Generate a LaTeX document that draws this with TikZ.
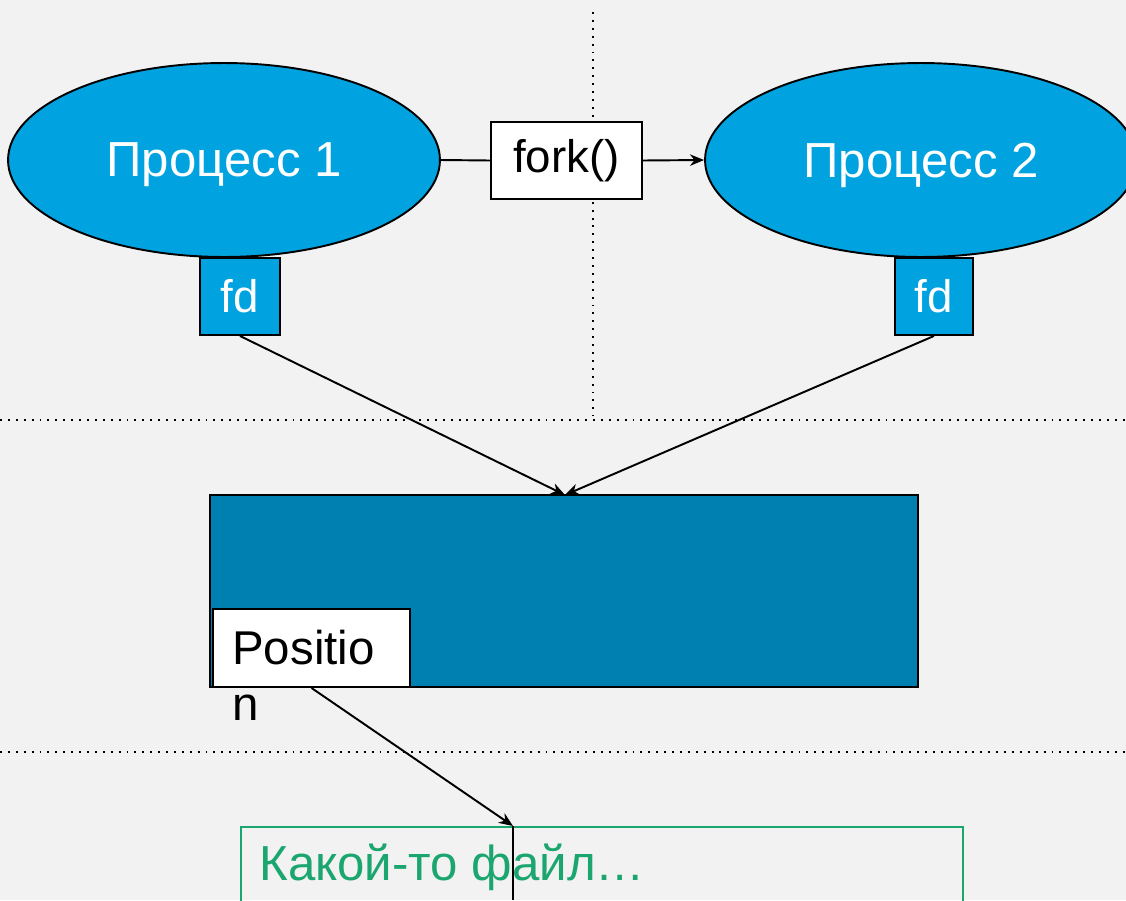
\documentclass[tikz,border=0pt]{standalone}
\usepackage{fontspec}
\setmainfont{Liberation Sans}
\usetikzlibrary{shapes.geometric,arrows.meta}

\definecolor{bg}{RGB}{242,242,242}
\definecolor{procblue}{RGB}{0,163,224}
\definecolor{tableblue}{RGB}{0,128,176}
\definecolor{filegreen}{RGB}{26,166,110}

\tikzset{
  px/.style={x=0.02cm,y=-0.02cm},
  border/.style={draw=black,line width=1.1pt},
  proc/.style={ellipse,border,fill=procblue,text=white,inner sep=0pt,
    minimum width=8.64cm,minimum height=3.88cm,font=\fontsize{28}{32}\selectfont},
  fdbox/.style={rectangle,border,fill=procblue,text=white,inner sep=0pt,
    minimum height=1.54cm,font=\fontsize{26}{30}\selectfont},
  whitebox/.style={rectangle,border,fill=white,inner sep=0pt},
  conn/.style={draw=black,line width=1.1pt},
  arr/.style={conn,-{Stealth[length=8pt,width=6.5pt,inset=2.5pt]}},
  sep/.style={draw=black,line width=1.1pt,dash pattern=on 1.1pt off 3.4pt},
}

\begin{document}
\begin{tikzpicture}[px]
  % canvas
  \fill[bg] (0,0) rectangle (1126,900);
  \useasboundingbox (0,0) rectangle (1126,900);
  \clip (0,0) rectangle (1126,900);

  % region separators
  \draw[sep] (593,12) -- (593,416);
  \draw[sep] (0,420) -- (1126,420);
  \draw[sep] (0,752) -- (1126,752);

  % processes
  \node[proc,text depth=-0.12cm] (p1) at (224,160) {Процесс 1};
  \node[proc,text depth=-0.12cm] (p2) at (921,160) {Процесс 2};
  \node[whitebox,minimum width=3.02cm,minimum height=1.54cm,
        font=\fontsize{26}{30}\selectfont] (fork) at (566.5,160.5) {fork()};
  \draw[conn] (p1.east) -- (fork.west);
  \draw[arr] (fork.east) -- (p2.west);

  % descriptors
  \node[fdbox,minimum width=1.6cm] (fd1) at (240,296.5) {fd};
  \node[fdbox,minimum width=1.56cm] (fd2) at (934,296.5) {fd};

  % open file description
  \node[rectangle,border,fill=tableblue,minimum width=14.16cm,minimum height=3.84cm,
        inner sep=0pt] (ofd) at (564,591) {};
  \coordinate (ofdtop) at (565,495);
  \draw[arr] (fd1.south) -- (ofdtop);
  \draw[arr] (fd2.south) -- (ofdtop);

  \node[whitebox,minimum width=3.94cm,minimum height=1.56cm] (pos) at (311.5,648) {};
  \node[anchor=north west,align=left,inner sep=0pt,
        font=\fontsize{27}{32}\selectfont] (postext) at (232,630) {Positio\\n};

  % file
  \node[rectangle,draw=filegreen,line width=1.1pt,anchor=north west,
        minimum width=14.44cm,minimum height=3cm,inner sep=0pt] (file) at (240,826) {};
  \node[anchor=base west,inner sep=0pt,text=filegreen,
        font=\fontsize{28}{34}\selectfont] (filetext) at (259,880) {Какой-то файл…};
  \coordinate (fileptr) at (513,826);
  \coordinate (fileptrend) at (513,900);
  \draw[arr] (pos.south) -- (fileptr);
  \draw[conn,line width=1.3pt] (fileptr) -- (fileptrend);
\end{tikzpicture}
\end{document}
